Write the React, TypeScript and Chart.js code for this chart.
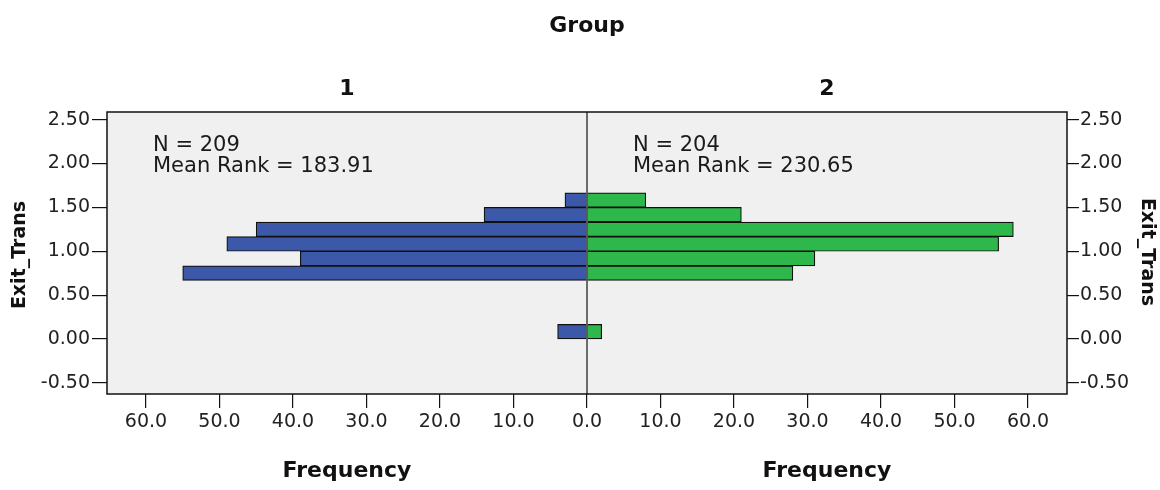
import React, { useEffect, useRef } from "react";
import { Chart, registerables } from "chart.js";

Chart.register(...registerables);

// Bin centers of Exit_Trans (bins of width 1/6)
const binCenters = [0.083, 0.75, 0.917, 1.083, 1.25, 1.417, 1.583];
// Frequencies per bin
const group1Freq = [4, 55, 39, 49, 45, 14, 3];
const group2Freq = [2, 28, 31, 56, 58, 21, 8];

const groupLabels = ["1", "2"];
const groupN = [209, 204];
const groupMeanRank = ["183.91", "230.65"];

const xTickStep = 10;
const yTickStep = 0.5;

const BLUE = "#3C58A9";
const GREEN = "#2EB84B";
const FONT = '"DejaVu Sans", Verdana, sans-serif';

export default function App() {
  const ref = useRef<HTMLCanvasElement>(null);

  useEffect(() => {
    if (!ref.current) return;

    const textPlugin = {
      id: "spssText",
      beforeDraw(chart: any) {
        const { ctx, chartArea } = chart;
        ctx.save();
        ctx.fillStyle = "#F0F0F0";
        ctx.fillRect(chartArea.left, chartArea.top, chartArea.right - chartArea.left, chartArea.bottom - chartArea.top);
        ctx.restore();
      },
      afterDatasetsDraw(chart: any) {
        const { ctx, chartArea } = chart;
        const xs = chart.scales.x;
        const x0 = xs.getPixelForValue(0);
        ctx.save();
        ctx.strokeStyle = "#111";
        ctx.lineWidth = 1.5;
        ctx.strokeRect(chartArea.left, chartArea.top, chartArea.right - chartArea.left, chartArea.bottom - chartArea.top);
        ctx.lineWidth = 1.2;
        ctx.beginPath();
        ctx.moveTo(x0, chartArea.top);
        ctx.lineTo(x0, chartArea.bottom);
        ctx.stroke();
        ctx.restore();
      },
      afterDraw(chart: any) {
        const { ctx, chartArea } = chart;
        const xs = chart.scales.x;
        const x0 = xs.getPixelForValue(0);
        const leftMid = (chartArea.left + x0) / 2;
        const rightMid = (x0 + chartArea.right) / 2;
        ctx.save();
        ctx.fillStyle = "#111";
        ctx.textBaseline = "alphabetic";
        ctx.textAlign = "center";
        ctx.font = `bold 22px ${FONT}`;
        ctx.fillText("Group", x0, 32);
        ctx.fillText(groupLabels[0], leftMid, 95);
        ctx.fillText(groupLabels[1], rightMid, 95);
        ctx.fillText("Frequency", leftMid, 477);
        ctx.fillText("Frequency", rightMid, 477);

        const yMid = (chartArea.top + chartArea.bottom) / 2;
        ctx.font = `bold 19px ${FONT}`;
        ctx.textBaseline = "middle";
        ctx.save();
        ctx.translate(20, yMid + 2);
        ctx.rotate(-Math.PI / 2);
        ctx.fillText("Exit_Trans", 0, 0);
        ctx.restore();
        ctx.save();
        ctx.translate(1147, yMid - 1);
        ctx.rotate(Math.PI / 2);
        ctx.fillText("Exit_Trans", 0, 0);
        ctx.restore();

        ctx.textBaseline = "alphabetic";
        ctx.textAlign = "left";
        ctx.font = `21px ${FONT}`;
        ctx.fillStyle = "#1a1a1a";
        const ax = [chartArea.left + 46, x0 + 46];
        for (let i = 0; i < 2; i++) {
          ctx.fillText(`N = ${groupN[i]}`, ax[i], 151);
          ctx.fillText(`Mean Rank = ${groupMeanRank[i]}`, ax[i], 172);
        }
        ctx.restore();
      },
    };

    const yAxisCommon = (tickLength: number, padding: number, width: number, position: string) => ({
      type: "linear",
      position,
      min: -0.627,
      max: 2.587,
      offset: false,
      afterFit: (s: any) => {
        s.width = width;
      },
      ticks: {
        stepSize: yTickStep,
        includeBounds: false,
        color: "#222",
        font: { family: FONT, size: 19 },
        padding,
        callback: (v: any) => Number(v).toFixed(2),
      },
      grid: { offset: false, drawOnChartArea: false, drawTicks: true, tickLength, color: "#111", lineWidth: 1.2 },
      border: { display: false },
    });

    const chart = new Chart(ref.current, {
      type: "bar",
      data: {
        datasets: [
          {
            label: groupLabels[0],
            data: binCenters.map((c, i) => ({ y: c, x: -group1Freq[i] })),
            backgroundColor: BLUE,
            borderColor: "#111",
            borderWidth: 1.2,
            grouped: false,
            barPercentage: 1,
            categoryPercentage: 1,
            xAxisID: "x",
            yAxisID: "y",
          } as any,
          {
            label: groupLabels[1],
            data: binCenters.map((c, i) => ({ y: c, x: group2Freq[i] })),
            backgroundColor: GREEN,
            borderColor: "#111",
            borderWidth: 1.2,
            grouped: false,
            barPercentage: 1,
            categoryPercentage: 1,
            xAxisID: "x",
            yAxisID: "y",
          } as any,
        ],
      },
      plugins: [textPlugin],
      options: {
        indexAxis: "y",
        responsive: false,
        animation: false,
        layout: { padding: { top: 112, left: 0, right: 0, bottom: 0 } },
        plugins: {
          legend: { display: false },
          tooltip: { enabled: false },
          title: { display: false },
        },
        scales: {
          x: {
            type: "linear",
            position: "bottom",
            min: -65.3,
            max: 65.3,
            offset: false,
            afterFit: (s: any) => {
              s.height = 96;
            },
            ticks: {
              stepSize: xTickStep,
              includeBounds: false,
              color: "#222",
              font: { family: FONT, size: 19 },
              padding: 3,
              maxRotation: 0,
              autoSkip: false,
              callback: (v: any) => Math.abs(Number(v)).toFixed(1),
            },
            grid: { offset: false, drawOnChartArea: false, drawTicks: true, tickLength: 14, color: "#111", lineWidth: 1.2 },
            border: { display: false },
          },
          y: yAxisCommon(15, 2, 107, "left"),
          y2: yAxisCommon(12, 1, 93, "right"),
        },
      } as any,
    });

    return () => chart.destroy();
  }, []);

  return (
    <div style={{ position: "absolute", left: 0, top: 0, width: 1160, height: 490, background: "#fff" }}>
      <canvas ref={ref} width={1160} height={490} style={{ display: "block" }} />
    </div>
  );
}
